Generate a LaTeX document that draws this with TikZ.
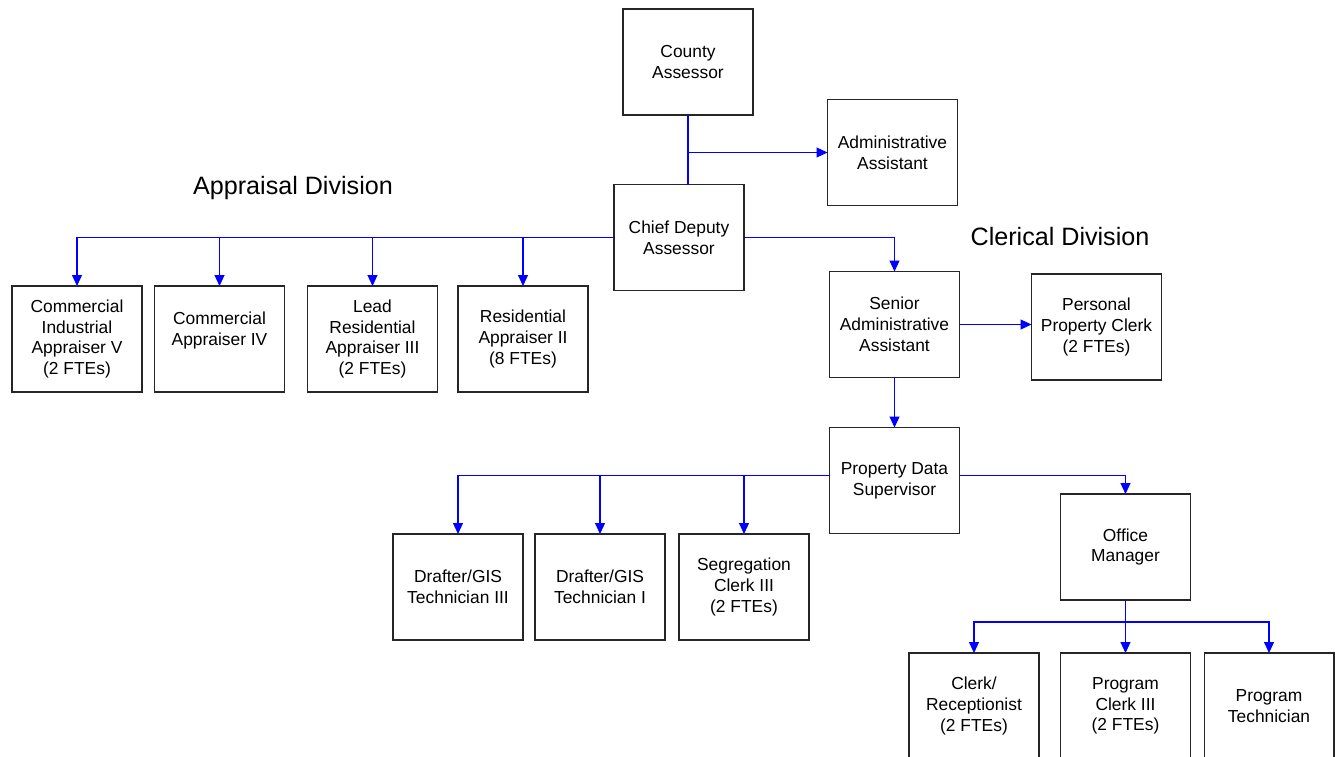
\documentclass[tikz,border=0pt]{standalone}
\usepackage{fontspec}
\setmainfont{Liberation Sans}
\usepackage{tikz}
\usetikzlibrary{arrows.meta,positioning,calc}

\begin{document}
\begin{tikzpicture}[
    x=0.02cm, y=-0.02cm,
    box/.style={rectangle, draw=black!85, line width=0.6pt, minimum width=2.6cm, minimum height=2.12cm, inner sep=0pt, outer sep=0pt, align=center, font=\fontsize{9.9pt}{11.8pt}\selectfont},
    conn/.style={draw=blue, line width=0.6pt},
    arr/.style={conn, -{Triangle[length=0.22cm, width=0.2cm]}},
    title/.style={font=\fontsize{14.3pt}{17pt}\selectfont}
]
    \useasboundingbox (0,0) rectangle (1335,757);

    % Top
    \node[box] (county) at (688, 62) {County\\Assessor};
    \node[box] (admin) at (892.5, 152.5) {Administrative\\Assistant};
    \node[box] (chief) at (679, 237.5) {Chief Deputy\\Assessor};
    \draw[conn] (county.south) -- (county.south |- chief.north);
    \draw[arr] (county.south |- admin.west) -- (admin.west);

    % Appraisal Division
    \node[title] (apptitle) at (293, 188) {Appraisal Division};
    \node[box] (app1) at (77, 339) {Commercial\\Industrial\\Appraiser V\\(2 FTEs)};
    \node[box] (app2) at (219.5, 339) {Commercial\\Appraiser IV\\\mbox{}};
    \node[box] (app3) at (372.5, 339) {Lead\\Residential\\Appraiser III\\(2 FTEs)};
    \node[box] (app4) at (523, 339) {Residential\\Appraiser II\\(8 FTEs)};
    \draw[arr] (chief.west) -| (app1.north);
    \foreach \n in {app2,app3,app4}
        \draw[arr] (chief.west -| \n.north) -- (\n.north);

    % Clerical Division
    \node[title] (clertitle) at (1060, 237) {Clerical Division};
    \node[box] (senior) at (894.5, 324.5) {Senior\\Administrative\\Assistant};
    \node[box] (ppclerk) at (1096.5, 327) {Personal\\Property Clerk\\(2 FTEs)};
    \node[box] (pds) at (894.5, 480.5) {Property Data\\Supervisor};
    \draw[arr] (chief.east) -| (senior.north);
    \draw[arr] (senior.east) -- (senior.east -| ppclerk.west);
    \draw[arr] (senior.south) -- (pds.north);

    \node[box] (gis3) at (458, 587) {Drafter/GIS\\Technician III};
    \node[box] (gis1) at (600, 587) {Drafter/GIS\\Technician I};
    \node[box] (seg) at (744, 587) {Segregation\\Clerk III\\(2 FTEs)};
    \draw[arr] ([yshift=0.1cm]pds.west) -| (gis3.north);
    \foreach \n in {gis1,seg}
        \draw[arr] ([yshift=0.1cm]pds.west -| \n.north) -- (\n.north);

    \node[box] (office) at (1125.5, 547) {Office\\Manager};
    \draw[arr] ([yshift=0.1cm]pds.east) -| (office.north);

    \node[box] (recep) at (974, 706) {Clerk/\\Receptionist\\(2 FTEs)};
    \node[box] (prog3) at (1125.5, 706) {Program\\Clerk III\\(2 FTEs)};
    \node[box] (progtech) at (1269, 706) {Program\\Technician};
    \coordinate (omsplit) at (1125.5, 622);
    \draw[arr] (office.south) -- (prog3.north);
    \draw[arr] (omsplit) -| (recep.north);
    \draw[arr] (omsplit) -| (progtech.north);
\end{tikzpicture}
\end{document}
